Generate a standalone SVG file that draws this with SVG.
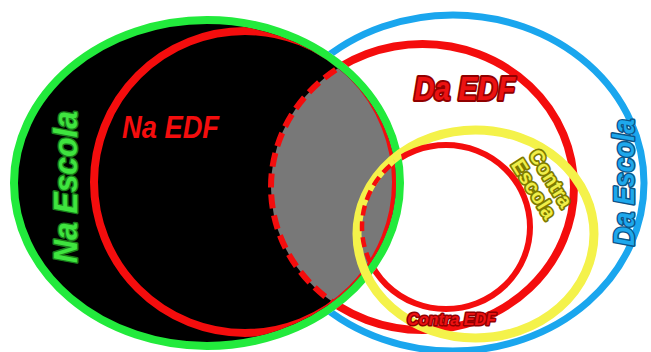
<svg xmlns="http://www.w3.org/2000/svg" width="651" height="352" viewBox="0 0 651 352">
  <style>
    .lbl { font-family: "Liberation Sans", Arial, sans-serif; font-weight: bold; font-style: italic; paint-order: stroke; stroke-linejoin: round; }
    .ring { fill: none; }
    .red { stroke: #f40d0d; }
  </style>
  <defs>
    <clipPath id="inGreen">
      <ellipse cx="207" cy="183" rx="189" ry="159"/>
    </clipPath>
    <mask id="outGreen" maskUnits="userSpaceOnUse" x="0" y="0" width="651" height="352">
      <rect x="0" y="0" width="651" height="352" fill="#fff"/>
      <ellipse cx="207" cy="183" rx="197" ry="167" fill="#000"/>
    </mask>
  </defs>
  <rect x="0" y="0" width="651" height="352" fill="#fff"/>

  <g id="na-escola">
    <ellipse cx="207" cy="183" rx="193" ry="163" fill="#000" stroke="#22ea3c" stroke-width="8"/>
    <text class="lbl" transform="translate(77,263) rotate(-90)" font-size="33" textLength="152" lengthAdjust="spacingAndGlyphs" fill="#3fe43f" stroke="#1b7d1b" stroke-width="3">Na Escola</text>
  </g>

  <g id="overlap">
    <ellipse cx="422.5" cy="187" rx="151.5" ry="143" fill="#787878" clip-path="url(#inGreen)"/>
  </g>

  <g id="na-edf">
    <ellipse class="ring red" cx="245" cy="182" rx="151" ry="151" stroke-width="8" clip-path="url(#inGreen)"/>
    <text class="lbl" x="122" y="138" font-size="32" textLength="97" lengthAdjust="spacingAndGlyphs" fill="#f40d0d">Na EDF</text>
  </g>

  <g id="da-escola">
    <ellipse class="ring" cx="453" cy="183" rx="191" ry="168" stroke="#1aa6ee" stroke-width="7" mask="url(#outGreen)"/>
    <text class="lbl" transform="translate(634,246) rotate(-90)" font-size="29" textLength="127" lengthAdjust="spacingAndGlyphs" fill="#1ea8ec" stroke="#0c5587" stroke-width="3">Da Escola</text>
  </g>

  <g id="da-edf">
    <ellipse class="ring red" cx="422.5" cy="187" rx="151.5" ry="143" stroke-width="8" mask="url(#outGreen)"/>
    <ellipse class="ring red" cx="422.5" cy="187" rx="151.5" ry="143" stroke-width="6" stroke-dasharray="14 7" clip-path="url(#inGreen)"/>
    <text class="lbl" x="414" y="100" font-size="34" textLength="101" lengthAdjust="spacingAndGlyphs" fill="#ec1212" stroke="#900000" stroke-width="4">Da EDF</text>
  </g>

  <g id="contra-escola">
    <ellipse class="ring" cx="475.5" cy="234" rx="118.5" ry="104" stroke="#f4f24a" stroke-width="9"/>
    <g transform="translate(545,182) rotate(58)">
      <text class="lbl" style="font-style: normal" x="0" y="0" text-anchor="middle" font-size="20" textLength="64" lengthAdjust="spacingAndGlyphs" fill="#f0ee48" stroke="#7d7a00" stroke-width="3.5">Contra</text>
      <text class="lbl" style="font-style: normal" x="0" y="20" text-anchor="middle" font-size="20" textLength="66" lengthAdjust="spacingAndGlyphs" fill="#f0ee48" stroke="#7d7a00" stroke-width="3.5">Escola</text>
    </g>
  </g>

  <g id="contra-edf">
    <ellipse class="ring red" cx="446" cy="227" rx="84" ry="82" stroke-width="6" mask="url(#outGreen)"/>
    <ellipse class="ring red" cx="446" cy="227" rx="84" ry="82" stroke-width="4.5" stroke-dasharray="10 6" clip-path="url(#inGreen)"/>
    <text class="lbl" x="407" y="325" font-size="17" textLength="89" lengthAdjust="spacingAndGlyphs" fill="#ec1212" stroke="#900000" stroke-width="3">Contra EDF</text>
  </g>
</svg>
